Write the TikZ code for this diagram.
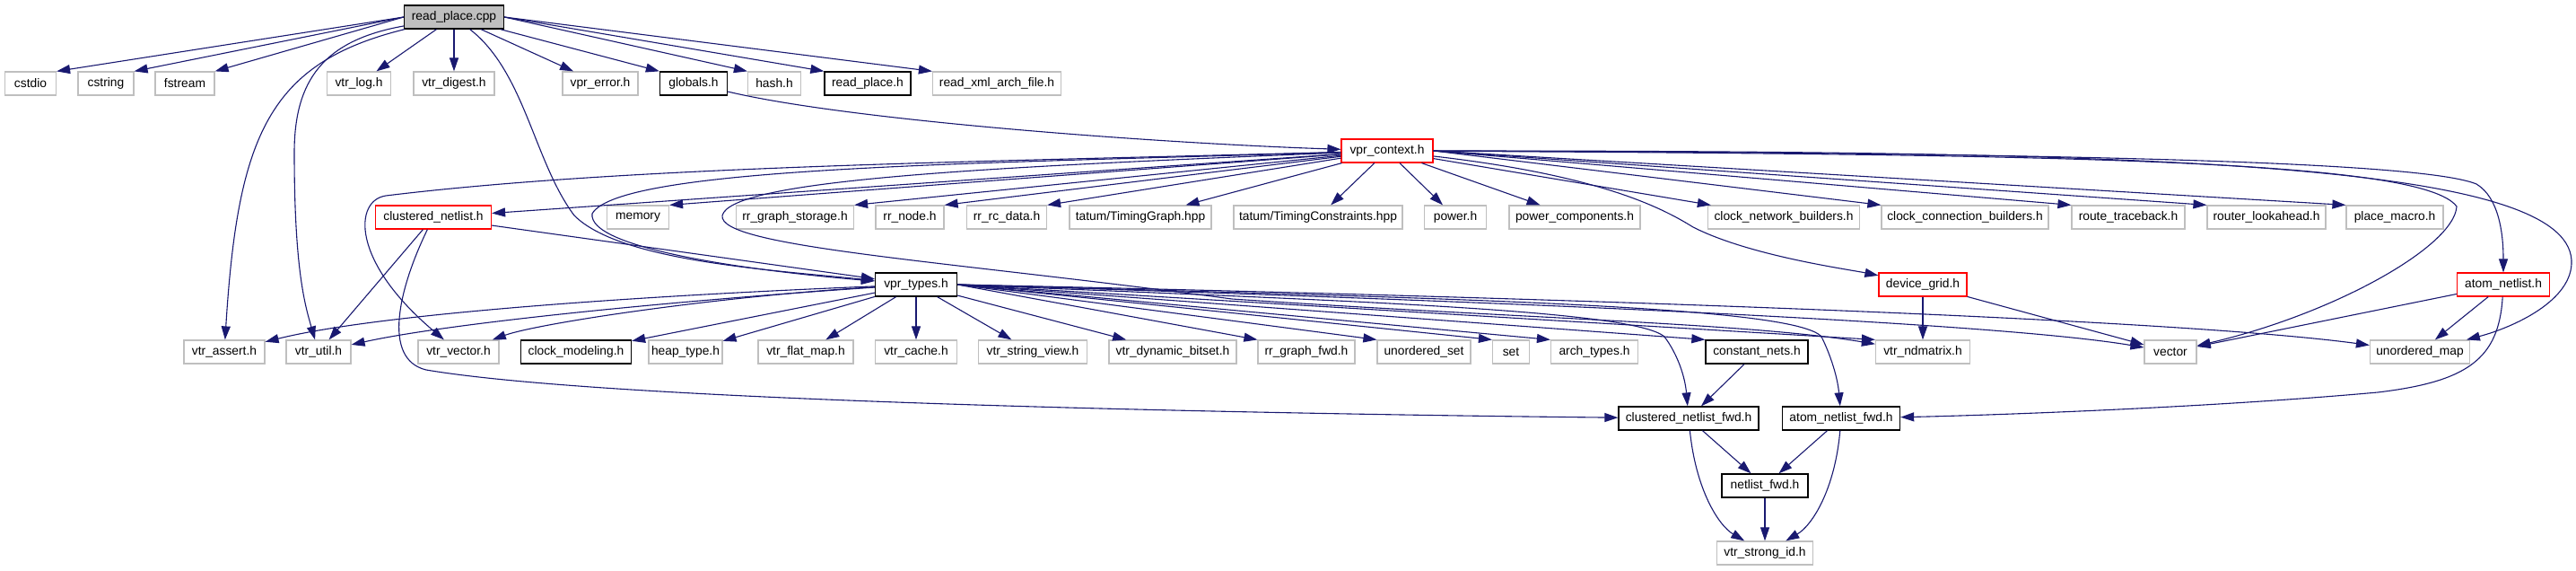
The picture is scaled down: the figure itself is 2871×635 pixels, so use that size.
\documentclass[tikz,border=0pt]{standalone}
\usepackage{fontspec}
\setmainfont{Liberation Sans}
\usepackage{xcolor}
\usetikzlibrary{arrows.meta}
\definecolor{edgeblue}{RGB}{25,25,112}
\definecolor{boxgray}{RGB}{191,191,191}

\begin{document}
\begin{tikzpicture}[x=1pt,y=-1pt,
  hdr/.style={draw=boxgray,line width=1.2pt,fill=white,minimum height=26pt,inner xsep=3pt,inner ysep=2pt,font=\fontsize{13.8}{15}\selectfont},
  dochdr/.style={hdr,draw=black,line width=1.3pt},
  cuthdr/.style={hdr,draw=red},
  rootbox/.style={hdr,draw=black,line width=1.3pt,fill=boxgray},
  dep/.style={-{Triangle[length=15pt,width=10pt]},draw=edgeblue,line width=1.1pt}]
\useasboundingbox (0,0) rectangle (2871,635);
\node[rootbox,minimum width=111] (rp) at (506,19) {read\_place.cpp};
\node[hdr,minimum width=57] (cstdio) at (34,93) {cstdio};
\node[hdr,minimum width=62] (cstring) at (118,93) {cstring};
\node[hdr,minimum width=66] (fstream) at (206,93) {fstream};
\node[hdr,minimum width=71] (vlog) at (400,93) {vtr\_log.h};
\node[hdr,minimum width=90] (vdig) at (506,93) {vtr\_digest.h};
\node[hdr,minimum width=84] (verr) at (669,93) {vpr\_error.h};
\node[dochdr,minimum width=75] (glob) at (773,93) {globals.h};
\node[hdr,minimum width=59] (hash) at (863,93) {hash.h};
\node[dochdr,minimum width=96] (rph) at (967,93) {read\_place.h};
\node[hdr,minimum width=143] (rxml) at (1111,93) {read\_xml\_arch\_file.h};
\node[cuthdr,minimum width=102] (ctx) at (1546,168) {vpr\_context.h};
\node[cuthdr,minimum width=129] (cnl) at (483,242) {clustered\_netlist.h};
\node[hdr,minimum width=69] (mem) at (711,242) {memory};
\node[hdr,minimum width=131] (rrgs) at (886,242) {rr\_graph\_storage.h};
\node[hdr,minimum width=76] (rrn) at (1014,242) {rr\_node.h};
\node[hdr,minimum width=89] (rrrc) at (1122,242) {rr\_rc\_data.h};
\node[hdr,minimum width=158] (tgr) at (1271,242) {tatum/TimingGraph.hpp};
\node[hdr,minimum width=188] (tcon) at (1469,242) {tatum/TimingConstraints.hpp};
\node[hdr,minimum width=69] (pwr) at (1622,242) {power.h};
\node[hdr,minimum width=146] (pwrc) at (1755,242) {power\_components.h};
\node[hdr,minimum width=169] (cnb) at (1988,242) {clock\_network\_builders.h};
\node[hdr,minimum width=186] (ccb) at (2190,242) {clock\_connection\_builders.h};
\node[hdr,minimum width=126] (rtb) at (2372,242) {route\_traceback.h};
\node[hdr,minimum width=132] (rla) at (2526,242) {router\_lookahead.h};
\node[hdr,minimum width=108] (pmac) at (2669,242) {place\_macro.h};
\node[dochdr,minimum width=91] (vtyp) at (1021,317) {vpr\_types.h};
\node[cuthdr,minimum width=98] (grid) at (2143,317) {device\_grid.h};
\node[cuthdr,minimum width=103] (anl) at (2790,317) {atom\_netlist.h};
\node[hdr,minimum width=90] (vass) at (250,392) {vtr\_assert.h};
\node[hdr,minimum width=72] (vutil) at (355,392) {vtr\_util.h};
\node[hdr,minimum width=90] (vvec) at (511,392) {vtr\_vector.h};
\node[dochdr,minimum width=123] (clkm) at (642,392) {clock\_modeling.h};
\node[hdr,minimum width=73] (heap) at (764,392) {heap\_type.h};
\node[hdr,minimum width=106] (vfm) at (898,392) {vtr\_flat\_map.h};
\node[hdr,minimum width=91] (vcache) at (1021,392) {vtr\_cache.h};
\node[hdr,minimum width=121] (vsv) at (1151,392) {vtr\_string\_view.h};
\node[hdr,minimum width=142] (vdb) at (1307,392) {vtr\_dynamic\_bitset.h};
\node[hdr,minimum width=108] (rrfwd) at (1456,392) {rr\_graph\_fwd.h};
\node[hdr,minimum width=104] (uset) at (1587,392) {unordered\_set};
\node[hdr,minimum width=41] (stdset) at (1684,392) {set};
\node[hdr,minimum width=97] (arch) at (1777,392) {arch\_types.h};
\node[dochdr,minimum width=114] (cnets) at (1958,392) {constant\_nets.h};
\node[hdr,minimum width=105] (vndm) at (2143,392) {vtr\_ndmatrix.h};
\node[hdr,minimum width=58] (vec) at (2419,392) {vector};
\node[hdr,minimum width=111] (umap) at (2697,392) {unordered\_map};
\node[dochdr,minimum width=156] (cnlf) at (1882,466) {clustered\_netlist\_fwd.h};
\node[dochdr,minimum width=131] (anlf) at (2052,466) {atom\_netlist\_fwd.h};
\node[dochdr,minimum width=96] (nlf) at (1967,541) {netlist\_fwd.h};
\node[hdr,minimum width=107] (vsid) at (1967,616) {vtr\_strong\_id.h};
\draw[dep] (rp.west) -- (cstdio.north east);
\draw[dep] (rp.west) -- (cstring.north east);
\draw[dep] (rp.west) -- (fstream.north east);
\draw[dep] (rp) -- (vlog);
\draw[dep] (rp) -- (vdig);
\draw[dep] (rp) -- (verr);
\draw[dep] (rp) -- (glob.north west);
\draw[dep] (rp.east) -- (hash.north west);
\draw[dep] (rp.east) -- (rph.north west);
\draw[dep] (rp.east) -- (rxml.north west);
\draw[dep] (rp) .. controls (300,70) and (265,150) .. (vass);
\draw[dep] (rp) .. controls (360,45) and (328,90) .. (328,170) .. controls (328,300) and (340,340) .. (vutil);
\draw[dep] (rp) .. controls (585,80) and (595,180) .. (640,240) .. controls (690,290) and (850,300) .. (vtyp);
\draw[dep] (glob) .. controls (950,135) and (1300,160) .. (ctx);
\draw[dep] (ctx) -- (cnl);
\draw[dep] (ctx) -- (mem.north east);
\draw[dep] (ctx) -- (rrgs.north east);
\draw[dep] (ctx) -- (rrn.north east);
\draw[dep] (ctx) -- (rrrc.north east);
\draw[dep] (ctx) -- (tgr);
\draw[dep] (ctx) -- (tcon);
\draw[dep] (ctx) -- (pwr);
\draw[dep] (ctx) -- (pwrc);
\draw[dep] (ctx) -- (cnb);
\draw[dep] (ctx.east) -- (ccb.north west);
\draw[dep] (ctx.east) -- (rtb.north west);
\draw[dep] (ctx.east) -- (rla.north west);
\draw[dep] (ctx.east) -- (pmac.north west);
\draw[dep] (ctx) .. controls (1100,180) and (700,185) .. (430,218) .. controls (395,223) and (390,290) .. (vvec);
\draw[dep] (ctx) .. controls (1100,182) and (690,185) .. (660,238) .. controls (655,275) and (820,300) .. (vtyp);
\draw[dep] (ctx) .. controls (1100,186) and (815,200) .. (805,240) .. controls (800,275) and (1050,290) .. (1373,333) .. controls (1700,355) and (1950,360) .. (vndm);
\draw[dep] (ctx) .. controls (1780,195) and (1850,230) .. (1887,253) .. controls (1950,285) and (2060,300) .. (grid);
\draw[dep] (ctx) .. controls (2300,170) and (2700,180) .. (2760,205) .. controls (2785,220) and (2790,260) .. (anl);
\draw[dep] (ctx) .. controls (2300,172) and (2700,178) .. (2738,230) .. controls (2735,275) and (2600,350) .. (vec);
\draw[dep] (ctx) .. controls (2400,168) and (2860,180) .. (2866,290) .. controls (2868,335) and (2800,365) .. (umap);
\draw[dep] (cnl) -- (vutil);
\draw[dep] (cnl) -- (vtyp);
\draw[dep] (cnl) .. controls (445,320) and (425,400) .. (475,412) .. controls (700,450) and (1500,462) .. (cnlf);
\draw[dep] (vtyp) .. controls (700,330) and (420,350) .. (vass);
\draw[dep] (vtyp) .. controls (750,335) and (500,360) .. (vutil);
\draw[dep] (vtyp) .. controls (800,330) and (600,360) .. (vvec);
\draw[dep] (vtyp) -- (clkm);
\draw[dep] (vtyp) -- (heap);
\draw[dep] (vtyp) -- (vfm);
\draw[dep] (vtyp) -- (vcache);
\draw[dep] (vtyp) -- (vsv);
\draw[dep] (vtyp) -- (vdb);
\draw[dep] (vtyp.east) -- (rrfwd.north west);
\draw[dep] (vtyp.east) -- (uset.north west);
\draw[dep] (vtyp.east) -- (stdset.north west);
\draw[dep] (vtyp.east) -- (arch.north west);
\draw[dep] (vtyp.east) -- (cnets.north west);
\draw[dep] (vtyp.east) -- (vndm.north west);
\draw[dep] (vtyp.east) .. controls (1500,330) and (2200,355) .. (vec);
\draw[dep] (vtyp.east) .. controls (1600,328) and (2400,352) .. (umap);
\draw[dep] (vtyp.east) .. controls (1500,335) and (1820,345) .. (1855,375) .. controls (1870,395) and (1878,420) .. (cnlf);
\draw[dep] (vtyp.east) .. controls (1600,332) and (2000,340) .. (2030,375) .. controls (2040,395) and (2048,420) .. (anlf);
\draw[dep] (grid) -- (vndm);
\draw[dep] (grid) -- (vec);
\draw[dep] (anl) -- (vec);
\draw[dep] (anl) -- (umap);
\draw[dep] (anl) .. controls (2785,400) and (2750,425) .. (2650,437) .. controls (2450,455) and (2200,463) .. (anlf);
\draw[dep] (cnets) -- (cnlf);
\draw[dep] (cnlf) -- (nlf);
\draw[dep] (anlf) -- (nlf);
\draw[dep] (nlf) -- (vsid);
\draw[dep] (cnlf) .. controls (1890,545) and (1915,585) .. (vsid);
\draw[dep] (anlf) .. controls (2045,545) and (2020,585) .. (vsid);
\end{tikzpicture}
\end{document}
